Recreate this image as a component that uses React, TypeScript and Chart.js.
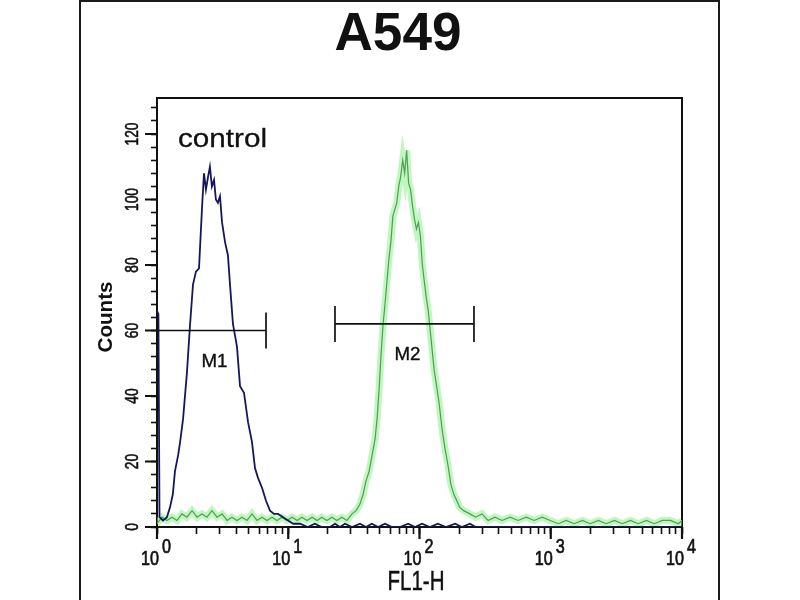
import React, { useEffect, useRef } from "react";
import { Chart, registerables } from "chart.js";

Chart.register(...registerables);

const TITLE = "A549";
const X_LABEL = "FL1-H";
const Y_LABEL = "Counts";
const CONTROL_LABEL = "control";

// control (blue) histogram: FL1-H channel value and counts
const controlX = [
  1.0, 1.025, 1.045, 1.11, 1.19, 1.256, 1.32, 1.37, 1.45, 1.5, 1.58, 1.69, 1.78, 1.88, 1.98, 2.09, 2.2,
  2.28, 2.36, 2.45, 2.53, 2.62, 2.72, 2.81, 2.91, 3.02, 3.13, 3.3, 3.47, 3.6, 3.79, 4.07, 4.29,
  4.6, 4.94, 5.29, 5.58, 5.88, 6.31, 6.77, 7.26, 7.79, 8.36, 9.14, 9.97, 10.9, 12.3, 14.1, 15.9,
  18.0, 20.8, 22.7, 24.8, 27.0, 30.6, 35.2, 39.1, 43.3, 48.4, 54.6, 61.7, 71.1, 81.9, 92.4, 104.5,
  120, 138, 159, 187, 210, 242, 268, 1000, 10000,
];
const controlCounts = [
  66, 65, 3, 2, 3, 6, 10, 17, 22, 26, 33, 47, 61, 74, 78, 79, 97,
  108, 103, 107, 110, 104, 106, 100, 99, 101, 93, 87, 83, 74, 62, 55, 43,
  41, 32, 26, 18, 15, 12, 8, 5, 4, 4, 3, 2, 1, 1, 0, 1,
  0, 0, 1, 0, 1, 0, 1, 0, 1, 0, 1, 0, 0, 1, 0, 1,
  0, 1, 0, 1, 0, 1, 0, 0, 0,
];

// stained sample (green) histogram
const sampleX = [
  1.0, 1.09, 1.19, 1.3, 1.42, 1.55, 1.69, 1.85, 2.02, 2.2, 2.4, 2.62, 2.87, 3.13, 3.42, 3.72,
  4.07, 4.44, 4.85, 5.29, 5.78, 6.31, 6.89, 7.52, 8.21, 8.96, 9.78, 10.7, 11.7, 12.7, 13.9, 15.2,
  16.6, 18.0, 19.7, 21.5, 23.5, 25.6, 28.0, 30.6, 32.9, 35.2, 37.2, 39.1, 41.3, 43.6, 45.9, 47.5,
  49.2, 51.0, 52.8, 54.6, 56.5, 58.5, 60.5, 62.7, 64.9, 67.1, 69.5, 71.9, 74.5, 77.1, 79.8, 82.6,
  85.5, 88.5, 91.6, 94.8, 98.1, 101.5, 105.1, 108.8, 112.6, 116.6, 120.7, 124.9, 129.3, 133.8, 140.9, 148.4,
  156.3, 164.6, 173.4, 182.6, 192.3, 202.6, 217, 242, 268, 299, 333, 375, 426, 490, 564, 650,
  748, 861, 990, 1140, 1310, 1510, 1740, 2000, 2300, 2650, 3050, 3510, 4040, 4650, 5350, 6160,
  7090, 8160, 9400, 10000,
];
const sampleCounts = [
  1, 3, 2, 3, 2, 4, 3, 5, 3, 4, 3, 5, 3, 4, 2, 3,
  2, 3, 2, 4, 2, 3, 2, 3, 2, 3, 2, 3, 2, 3, 2, 3,
  2, 3, 2, 3, 2, 3, 2, 4, 5, 7, 10, 14, 17, 22, 27, 33,
  42, 53, 62, 68, 75, 82, 87, 95, 97, 99, 104, 107, 112, 108, 115, 105,
  103, 98, 94, 91, 93, 89, 80, 75, 70, 66, 60, 54, 48, 44, 38, 30,
  24, 19, 13, 10, 8, 6, 5, 4, 3, 4, 2, 3, 2, 3, 2, 3,
  2, 3, 2, 1, 2, 1, 2, 1, 2, 1, 2, 1, 2, 1, 2, 1,
  2, 2, 1, 2,
];

// axis ticks
const decadeTicks = [1, 10, 100, 1000, 10000];
const decadeExponents = ["0", "1", "2", "3", "4"];
const minorTicks = [
  2, 3, 4, 5, 6, 7, 8, 9,
  20, 30, 40, 50, 60, 70, 80, 90,
  200, 300, 400, 500, 600, 700, 800, 900,
  2000, 3000, 4000, 5000, 6000, 7000, 8000, 9000,
];
const yLabelTicks = [0, 20, 40, 60, 80, 100, 120];
const Y_MAX = 131;

// marker gates
const markerNames = ["M1", "M2"];
const markerStart = [1, 22.7];
const markerEnd = [6.77, 260];
const markerLevel = [60, 62];

const FONT = '"Liberation Sans", Arial, Helvetica, sans-serif';
const INK = "#111111";

function drawText(
  ctx: CanvasRenderingContext2D,
  text: string,
  font: string,
  x: number,
  y: number,
  sx: number,
  align: CanvasTextAlign,
  rotate = false,
  heavy = 0
) {
  ctx.save();
  ctx.font = font;
  ctx.translate(x, y);
  if (rotate) ctx.rotate(-Math.PI / 2);
  ctx.scale(sx, 1);
  ctx.textAlign = align;
  ctx.textBaseline = "alphabetic";
  ctx.fillStyle = INK;
  ctx.fillText(text, 0, 0);
  if (heavy > 0) {
    ctx.strokeStyle = INK;
    ctx.lineWidth = heavy;
    ctx.lineJoin = "round";
    ctx.strokeText(text, 0, 0);
  }
  ctx.restore();
}

function fitScale(ctx: CanvasRenderingContext2D, text: string, font: string, width: number) {
  ctx.save();
  ctx.font = font;
  const w = ctx.measureText(text).width || 1;
  ctx.restore();
  return width / w;
}

const decorPlugin = {
  id: "flowDecor",
  beforeDatasetsDraw(chart: any) {
    const ctx: CanvasRenderingContext2D = chart.ctx;
    const { left, right, top, bottom } = chart.chartArea;
    const xs = chart.scales.x;
    const ys = chart.scales.y;
    ctx.save();
    // plot frame
    ctx.strokeStyle = INK;
    ctx.lineWidth = 2;
    ctx.strokeRect(left, top, right - left, bottom - top);
    // major ticks
    ctx.lineWidth = 2.2;
    ctx.beginPath();
    decadeTicks.forEach((v) => {
      const px = xs.getPixelForValue(v);
      ctx.moveTo(px, bottom);
      ctx.lineTo(px, bottom + 12);
    });
    yLabelTicks.forEach((v) => {
      const py = ys.getPixelForValue(v);
      ctx.moveTo(left, py);
      ctx.lineTo(left - 12, py);
    });
    ctx.stroke();
    ctx.restore();
  },
  afterDatasetsDraw(chart: any) {
    const ctx: CanvasRenderingContext2D = chart.ctx;
    const xs = chart.scales.x;
    const ys = chart.scales.y;
    ctx.save();
    ctx.strokeStyle = INK;
    ctx.lineWidth = 1.7;
    markerNames.forEach((name, i) => {
      const x1 = xs.getPixelForValue(markerStart[i]);
      const x2 = xs.getPixelForValue(markerEnd[i]);
      const y = ys.getPixelForValue(markerLevel[i]);
      ctx.beginPath();
      ctx.moveTo(x1, y);
      ctx.lineTo(x2, y);
      ctx.moveTo(x1, y - 18);
      ctx.lineTo(x1, y + 18);
      ctx.moveTo(x2, y - 18);
      ctx.lineTo(x2, y + 18);
      ctx.stroke();
      const mid = xs.getPixelForValue(Math.sqrt(markerStart[i] * markerEnd[i]));
      const f = `19px ${FONT}`;
      drawText(ctx, name, f, mid + 3, y + 36, fitScale(ctx, name, f, 26), "center", false, 0.4);
    });
    ctx.restore();
  },
  afterDraw(chart: any) {
    const ctx: CanvasRenderingContext2D = chart.ctx;
    const xs = chart.scales.x;
    const ys = chart.scales.y;
    ctx.save();
    // outer frame
    ctx.strokeStyle = "#1a1a1a";
    ctx.lineWidth = 2;
    ctx.beginPath();
    ctx.moveTo(80, 600);
    ctx.lineTo(80, 1);
    ctx.lineTo(719, 1);
    ctx.lineTo(719, 600);
    ctx.stroke();

    // title
    const tf = `bold 53px ${FONT}`;
    drawText(ctx, TITLE, tf, 398, 50, fitScale(ctx, TITLE, tf, 127), "center");
    // control label
    const cf = `26px ${FONT}`;
    drawText(ctx, CONTROL_LABEL, cf, 178, 147, fitScale(ctx, CONTROL_LABEL, cf, 89), "left", false, 0.3);
    // y label
    const yf = `bold 20px ${FONT}`;
    drawText(ctx, Y_LABEL, yf, 112, 317, fitScale(ctx, Y_LABEL, yf, 71), "center", true);
    // y tick labels
    const ytf = `18px ${FONT}`;
    const ySx = fitScale(ctx, "120", ytf, 23);
    yLabelTicks.forEach((v) => {
      drawText(ctx, String(v), ytf, 138, ys.getPixelForValue(v), ySx, "center", true, 0.6);
    });
    // x tick labels
    const xtf = `21px ${FONT}`;
    const xSx = fitScale(ctx, "10", xtf, 18);
    decadeTicks.forEach((v, i) => {
      const px = xs.getPixelForValue(v);
      drawText(ctx, "10", xtf, px + 2, 565, xSx, "right", false, 0.7);
      drawText(ctx, decadeExponents[i], xtf, px + 5, 553, xSx, "left", false, 0.7);
    });
    // x label
    const xf = `28px ${FONT}`;
    drawText(ctx, X_LABEL, xf, 416, 590, fitScale(ctx, X_LABEL, xf, 57), "center", false, 0.5);
    ctx.restore();
  },
};

export default function App() {
  const canvasRef = useRef<HTMLCanvasElement | null>(null);

  useEffect(() => {
    const canvas = canvasRef.current;
    if (!canvas) return;
    const controlData = controlX.map((x, i) => ({ x, y: controlCounts[i] }));
    const sampleData = sampleX.map((x, i) => ({ x, y: sampleCounts[i] }));
    const chart = new Chart(canvas, {
      type: "line",
      data: {
        datasets: [
          {
            label: "control",
            data: controlData,
            borderColor: "#16165c",
            borderWidth: 1.8,
            pointRadius: 0,
            tension: 0,
            fill: false,
          },
          {
            label: "sample",
            data: sampleData,
            borderColor: "#4f9f4f",
            borderWidth: 1.2,
            pointRadius: 0,
            tension: 0,
            fill: false,
          },
          {
            label: "sample glow",
            data: sampleData,
            borderColor: "rgba(130, 238, 130, 0.5)",
            borderWidth: 7,
            pointRadius: 0,
            tension: 0,
            fill: false,
          },
        ],
      },
      options: {
        animation: false,
        responsive: false,
        devicePixelRatio: 1,
        layout: { padding: { left: 151, right: 118, top: 98, bottom: 66 } },
        plugins: {
          legend: { display: false },
          tooltip: { enabled: false },
          title: { display: false },
        },
        scales: {
          x: {
            type: "logarithmic",
            min: 1,
            max: 10000,
            afterBuildTicks: (scale: any) => {
              scale.ticks = [...decadeTicks, ...minorTicks]
                .sort((a, b) => a - b)
                .map((v) => ({ value: v }));
            },
            ticks: { display: false, autoSkip: false },
            grid: {
              drawOnChartArea: false,
              drawTicks: true,
              tickLength: 7,
              tickColor: INK,
              tickWidth: 1.6,
            },
            border: { display: false },
          },
          y: {
            type: "linear",
            min: 0,
            max: Y_MAX,
            ticks: { display: false, stepSize: 4, includeBounds: false, autoSkip: false },
            grid: {
              drawOnChartArea: false,
              drawTicks: true,
              tickLength: 6,
              tickColor: INK,
              tickWidth: 1.6,
            },
            border: { display: false },
          },
        },
      } as any,
      plugins: [decorPlugin],
    });
    return () => chart.destroy();
  }, []);

  return (
    <div style={{ position: "absolute", left: 0, top: 0, width: 800, height: 600, background: "#fff" }}>
      <canvas ref={canvasRef} width={800} height={600} style={{ width: 800, height: 600, display: "block" }} />
    </div>
  );
}
